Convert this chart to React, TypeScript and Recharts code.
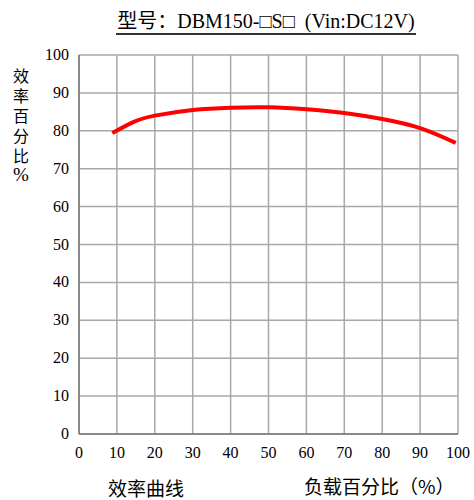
import { LineChart, Line, XAxis, YAxis, CartesianGrid } from 'recharts';

const loadPct = [8.8, 14.3, 20, 30, 40, 50, 60, 70, 80, 90, 99.4];
const efficiency = [79.4, 82.3, 84.0, 85.5, 86.1, 86.2, 85.7, 84.7, 83.1, 80.7, 76.8];
const ticks = [0, 10, 20, 30, 40, 50, 60, 70, 80, 90, 100];

const data = loadPct.map((x, i) => ({ x, eff: efficiency[i] }));

const SERIF = '"Liberation Serif", "Times New Roman", serif';
const CJK = '"Noto Sans CJK SC", sans-serif';

function XTick(props: any) {
  const { x, y, payload } = props;
  return (
    <text x={x} y={y + 16} textAnchor="middle" fill="#000" fontSize={16} fontFamily={SERIF}>
      {payload.value}
    </text>
  );
}

function YTick(props: any) {
  const { x, y, payload } = props;
  return (
    <text x={x - 2} y={y + 5} textAnchor="end" fill="#000" fontSize={16} fontFamily={SERIF}>
      {payload.value}
    </text>
  );
}

export default function App() {
  return (
    <div style={{ position: 'absolute', left: 0, top: 0, width: 474, height: 500, background: '#fff', fontFamily: SERIF }}>
      <LineChart width={474} height={500} data={data} margin={{ top: 55, right: 16, bottom: 36, left: 0 }}>
        <CartesianGrid stroke="#a8a8a8" strokeWidth={1.5} horizontalValues={ticks} verticalValues={ticks} />
        <XAxis
          type="number"
          dataKey="x"
          domain={[0, 100]}
          ticks={ticks}
          height={30}
          axisLine={{ stroke: '#777', strokeWidth: 1.5 }}
          tickLine={false}
          tick={<XTick />}
          interval={0}
        />
        <YAxis
          type="number"
          domain={[0, 100]}
          ticks={ticks}
          width={79}
          axisLine={{ stroke: '#777', strokeWidth: 1.5 }}
          tickLine={false}
          tick={<YTick />}
          interval={0}
        />
        <Line
          type="natural"
          dataKey="eff"
          stroke="#ff0000"
          strokeWidth={4}
          dot={false}
          isAnimationActive={false}
        />
      </LineChart>

      <div
        style={{
          position: 'absolute',
          left: 116,
          top: 8,
          width: 300,
          fontSize: 20,
          fontFamily: SERIF,
          whiteSpace: 'pre',
          borderBottom: '2px solid #333',
          lineHeight: '24px',
          textAlign: 'center',
        }}
      >
        <span style={{ fontFamily: CJK }}>型号：</span>DBM150-□S□  (Vin:DC12V)
      </div>

      <div
        style={{
          position: 'absolute',
          left: 10,
          top: 65,
          width: 22,
          fontSize: 16,
          lineHeight: '20px',
          fontFamily: CJK,
          textAlign: 'center',
        }}
      >
        {['效', '率', '百', '分', '比'].map((c) => (
          <div key={c}>{c}</div>
        ))}
        <div style={{ fontFamily: SERIF, fontSize: 19 }}>%</div>
      </div>

      <div
        style={{
          position: 'absolute',
          left: 108,
          top: 478,
          fontSize: 19,
          lineHeight: '20px',
          fontFamily: CJK,
          whiteSpace: 'nowrap',
        }}
      >
        效率曲线
      </div>
      <div
        style={{
          position: 'absolute',
          left: 304,
          top: 476,
          fontSize: 19,
          lineHeight: '20px',
          fontFamily: CJK,
          whiteSpace: 'nowrap',
        }}
      >
        负载百分比（%）
      </div>
    </div>
  );
}
